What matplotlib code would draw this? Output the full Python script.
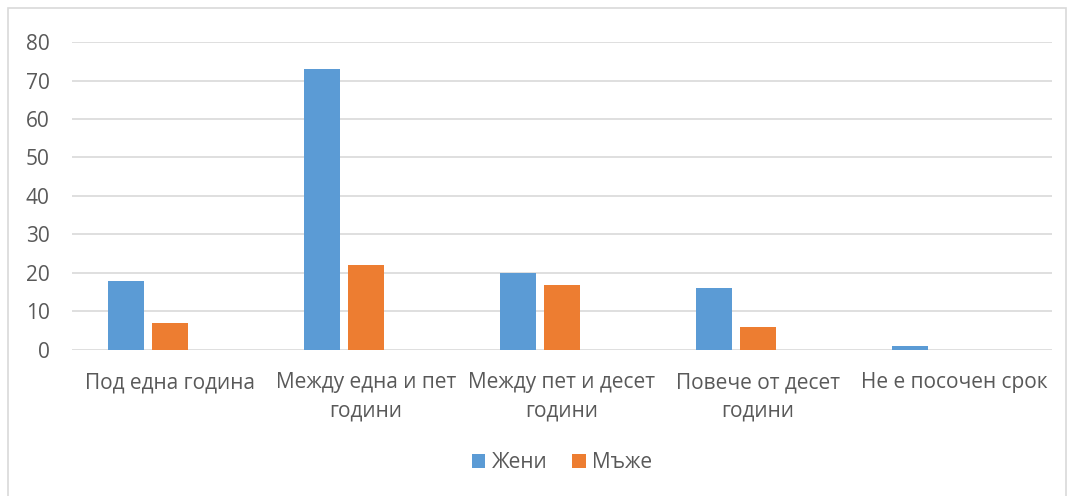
import matplotlib.pyplot as plt
import numpy as np
from matplotlib.patches import Rectangle

categories = ['Под една година', 'Между една и пет\nгодини', 'Между пет и десет\nгодини',
              'Повече от десет\nгодини', 'Не е посочен срок']
zheni = [18, 73, 20, 16, 1]
mazhe = [7, 22, 17, 6, 0]

plt.rcParams['font.family'] = ['Open Sans', 'DejaVu Sans']
txt = '#595959'
fs = 15

fig = plt.figure(figsize=(10.72, 4.96), dpi=100)
ax = fig.add_axes([0.0672, 0.2944, 0.9141, 0.6209])

# рамка на диаграмата
fig.patches.append(Rectangle((8 / 1072, -0.01), (1066 - 8) / 1072, 1 - 8 / 496 + 0.01,
                             transform=fig.transFigure, fill=False, edgecolor='#d9d9d9', lw=1.2))

# три места в група (третото е празно), както в Excel
x = np.arange(len(categories))
w = 0.179
step = 0.2245
ax.bar(x - step, zheni, w, color='#5b9bd5', label='Жени', zorder=3)
ax.bar(x, mazhe, w, color='#ed7d31', label='Мъже', zorder=3)

ax.set_xlim(-0.5, len(categories) - 0.5)
ax.set_ylim(0, 80)
ax.set_yticks(range(0, 81, 10))
ax.yaxis.grid(True, color='#d9d9d9', lw=1.2, zorder=0)
for s in ax.spines.values():
    s.set_visible(False)
ax.tick_params(length=0, colors=txt, labelsize=fs)
ax.tick_params(axis='y', pad=16)
ax.tick_params(axis='x', pad=16)
ax.set_xticks(x)
ax.set_xticklabels(categories, linespacing=1.45)

ax.legend(loc='center', bbox_to_anchor=(0.5, -0.365), ncol=2, frameon=False,
          fontsize=fs, labelcolor=txt, handlelength=0.65, handleheight=0.65,
          handletextpad=0.3, columnspacing=1.2)

fig.savefig('out.png', dpi=100)
